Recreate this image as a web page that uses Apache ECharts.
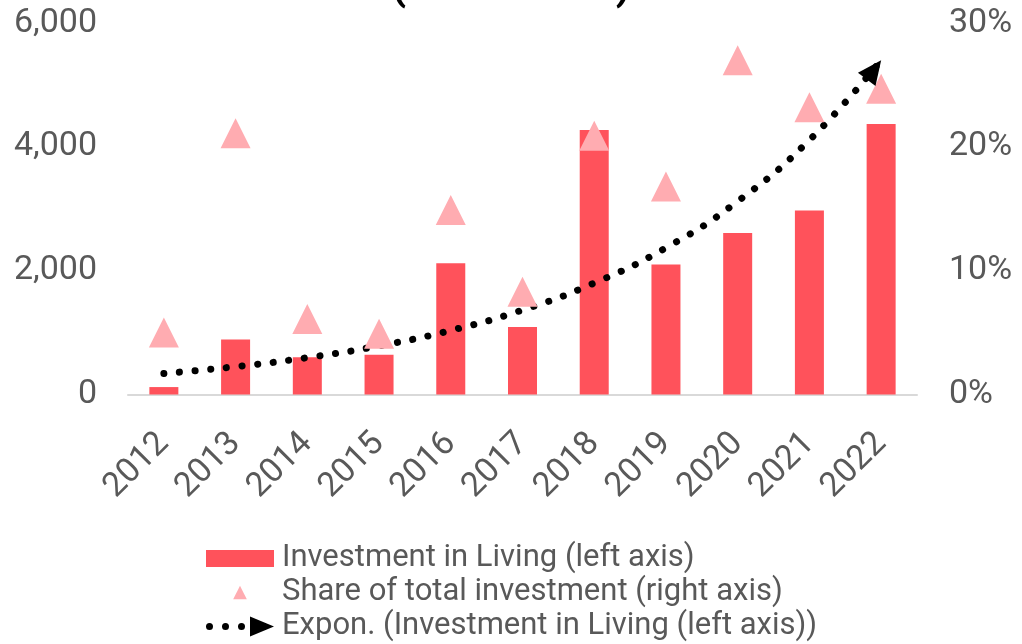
<!DOCTYPE html>
<html>
<head>
<meta charset="utf-8">
<script src="https://cdn.jsdelivr.net/npm/echarts@6/dist/echarts.min.js"></script>
<style>
  html, body { margin: 0; padding: 0; background: #fff; }
  #chart { width: 1022px; height: 644px; }
</style>
</head>
<body>
<div id="chart"></div>
<script>
// values
var years = ['2012', '2013', '2014', '2015', '2016', '2017', '2018', '2019', '2020', '2021', '2022'];
var investment = [120, 890, 600, 640, 2120, 1090, 4270, 2100, 2610, 2970, 4370];
var sharePct = [5.0, 21.1, 6.1, 4.9, 14.9, 8.3, 20.9, 16.8, 27.0, 23.2, 24.7];
var trendValues = [340, 450, 595, 785, 1035, 1365, 1800, 2370, 3120, 4110, 5400];
var leftTicks = [0, 2000, 4000, 6000];
var rightTicks = [0, 10, 20, 30];

var barName = 'Investment in Living (left axis)';
var shareName = 'Share of total investment (right axis)';
var trendName = 'Expon. (Investment in Living (left axis))';

var textGrey = '#595959';
var font = 'Roboto';

// last trend point carries the arrow head
var trendData = trendValues.map(function (v, i) {
    if (i === trendValues.length - 1) {
        return {
            value: v,
            symbol: 'triangle',
            symbolSize: [22, 24],
            symbolRotate: -37,
            symbolOffset: [-7.2, 9.6]
        };
    }
    return v;
});

var trendIcon = 'path://M0,10a3.5,3.5 0 1,0 7,0a3.5,3.5 0 1,0 -7,0Z' +
    'M16,10a3.5,3.5 0 1,0 7,0a3.5,3.5 0 1,0 -7,0Z' +
    'M32,10a3.5,3.5 0 1,0 7,0a3.5,3.5 0 1,0 -7,0Z' +
    'M44,0L68,10L44,20Z';

var legendText = { color: textGrey, fontFamily: font, fontSize: 31, padding: [0, 0, 0, 3] };

var chart = echarts.init(document.getElementById('chart'));
chart.setOption({
    animation: false,
    backgroundColor: '#fff',
    title: {
        text: '(2012-2022)',
        left: 'center',
        top: -33,
        padding: 0,
        textStyle: { color: '#000', fontFamily: font, fontWeight: 'bold', fontSize: 42 }
    },
    grid: {
        left: 128, right: 105, top: 23, bottom: 249.5,
        containLabel: false,
        outerBoundsMode: 'none'
    },
    legend: [
        {
            data: [{ name: barName, icon: 'rect' }], left: 206, top: 543, padding: 0,
            itemWidth: 68, itemHeight: 17, textStyle: legendText,
            selectedMode: false
        },
        {
            data: [shareName], left: 206, top: 577, padding: 0,
            itemWidth: 68, itemHeight: 17, textStyle: legendText,
            selectedMode: false
        },
        {
            data: [{ name: trendName, icon: trendIcon }], left: 206, top: 611, padding: 0,
            itemWidth: 68, itemHeight: 20, textStyle: legendText,
            itemStyle: { borderWidth: 0 },
            selectedMode: false
        }
    ],
    xAxis: {
        type: 'category',
        data: years,
        axisLine: { lineStyle: { color: '#d9d9d9', width: 2 } },
        axisTick: { show: false },
        axisLabel: {
            rotate: 45, margin: 44, interval: 0,
            color: textGrey, fontFamily: font, fontSize: 34
        }
    },
    yAxis: [
        {
            type: 'value', min: leftTicks[0], max: leftTicks[leftTicks.length - 1], interval: 2000,
            splitLine: { show: false }, axisLine: { show: false }, axisTick: { show: false },
            axisLabel: {
                margin: 31, color: textGrey, fontFamily: font, fontSize: 34,
                formatter: function (v) { return v.toLocaleString('en-US'); }
            }
        },
        {
            type: 'value', min: rightTicks[0], max: rightTicks[rightTicks.length - 1], interval: 10,
            splitLine: { show: false }, axisLine: { show: false }, axisTick: { show: false },
            axisLabel: {
                margin: 32, color: textGrey, fontFamily: font, fontSize: 34,
                formatter: '{value}%'
            }
        }
    ],
    series: [
        {
            name: barName,
            type: 'bar',
            data: investment,
            barWidth: 29,
            itemStyle: { color: '#ff525b' }
        },
        {
            name: shareName,
            type: 'line',
            yAxisIndex: 1,
            data: sharePct,
            symbol: 'triangle',
            symbolSize: [30, 30],
            showAllSymbol: true,
            lineStyle: { width: 0, opacity: 0 },
            itemStyle: { color: '#ffacb1', borderWidth: 0 },
            emphasis: { disabled: true }
        },
        {
            name: trendName,
            type: 'line',
            data: trendData,
            symbol: 'none',
            showAllSymbol: true,
            smooth: true,
            color: '#000',
            lineStyle: { color: '#000', width: 7, cap: 'round', type: [0.1, 15.6] },
            itemStyle: { color: '#000', borderWidth: 0 },
            emphasis: { disabled: true }
        }
    ]
});
</script>
</body>
</html>
